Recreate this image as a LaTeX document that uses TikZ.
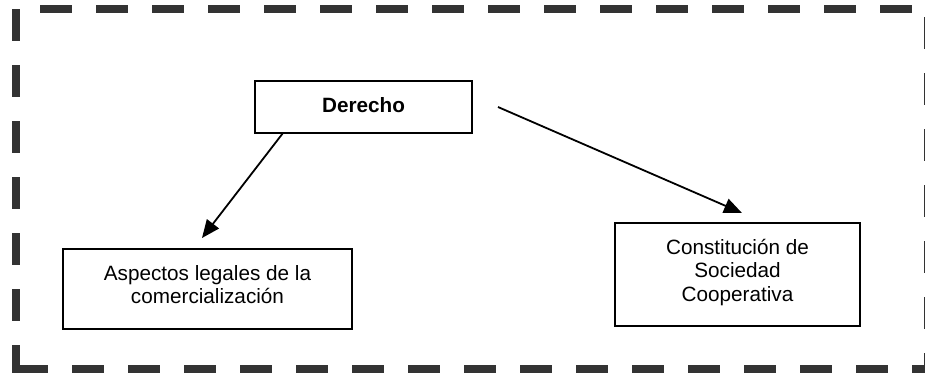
\documentclass[tikz,border=0pt]{standalone}
\usepackage{fontspec}
\setmainfont{Liberation Sans}
\usetikzlibrary{arrows.meta,calc}
\begin{document}
\begin{tikzpicture}[x=1pt,y=-1pt,
  frame/.style={line width=8pt, draw=black!80, line cap=rect, dash pattern=on 24pt off 32pt},
  box/.style={draw, line width=2pt, inner sep=0pt, outer sep=0pt, anchor=north west, font=\fontsize{20.7}{23.6}\selectfont},
  arr/.style={line width=1.8pt, -{Triangle[length=18pt,width=15pt]}}]
\useasboundingbox (0,0) rectangle (925,376);
% dashed frame
\draw[frame, dash phase=52pt] (16,9) -- (16,369);
\draw[frame, dash phase=28pt] (16,9) -- (928,9);
\draw[frame, dash phase=44pt] (928,9) -- (928,369);
\draw[frame, dash phase=52pt] (16,369) -- (928,369);
% boxes
\node[box] (der) at (255,81) {\parbox[c][52pt][t]{217pt}{\centering\rule{0pt}{31pt}\textbf{Derecho}}};
\node[box] (asp) at (63,249) {\parbox[c][80pt][t]{289pt}{\centering\rule{0pt}{31pt}Aspectos legales de la\\comercialización}};
\node[box] (con) at (615,223) {\parbox[c][103pt][t]{245pt}{\centering\rule{0pt}{31pt}Constitución de\\Sociedad\\Cooperativa}};
% arrows
\coordinate (s1) at ($(der.south west)+(28,0)$);
\coordinate (e1) at ($(asp.north)+(-5.5,-11)$);
\draw[arr] (s1) -- (e1);
\coordinate (s2) at ($(der.east)+(26,0)$);
\coordinate (e2) at ($(con.north)+(4.5,-10)$);
\draw[arr] (s2) -- (e2);
\end{tikzpicture}
\end{document}
